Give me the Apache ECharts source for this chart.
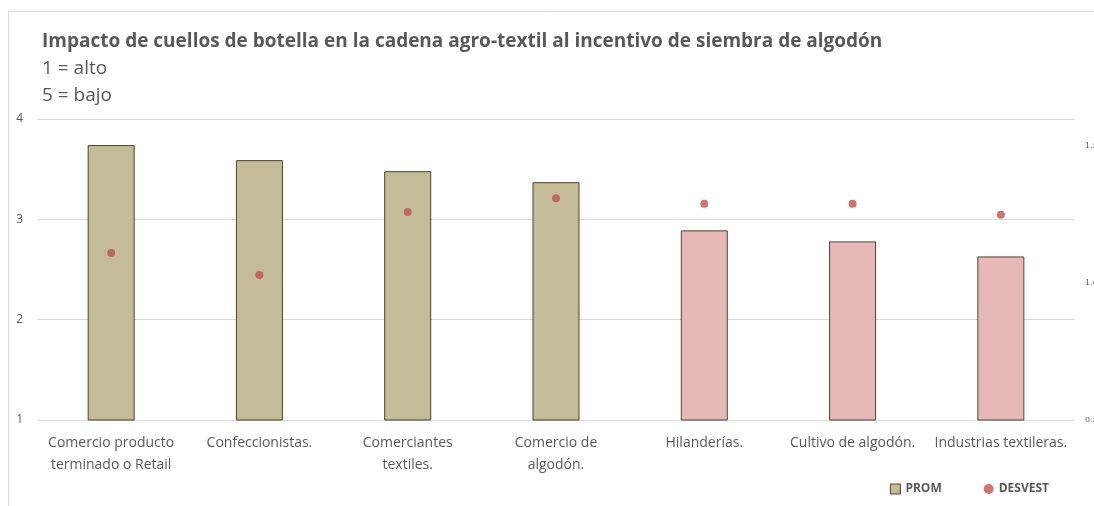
<!DOCTYPE html>
<html>
<head>
<meta charset="utf-8">
<script src="https://cdn.jsdelivr.net/npm/echarts@6/dist/echarts.min.js"></script>
<style>
  html, body { margin: 0; padding: 0; background: #fff; }
  #chart { width: 1094px; height: 506px; }
</style>
</head>
<body>
<div id="chart"></div>
<script>
// categorías y valores
const categorias = [
    'Comercio producto\nterminado o Retail',
    'Confeccionistas.',
    'Comerciantes\ntextiles.',
    'Comercio de\nalgodón.',
    'Hilanderías.',
    'Cultivo de algodón.',
    'Industrias textileras.'
];
const prom = [3.74, 3.59, 3.48, 3.37, 2.89, 2.78, 2.63];
const desvest = [1.11, 1.03, 1.26, 1.31, 1.29, 1.29, 1.25];
const grupoRosa = [false, false, false, false, true, true, true];

const colorTan = '#c4bc96';
const colorRosa = '#e6b9b8';

const chart = echarts.init(document.getElementById('chart'));

chart.setOption({
    backgroundColor: '#fff',
    animation: false,
    textStyle: { fontFamily: '"Open Sans", "Noto Sans", sans-serif' },
    title: {
        text: 'Impacto de cuellos de botella en la cadena agro-textil al incentivo de siembra de algodón',
        subtext: '1 = alto\n5 = bajo',
        left: 37,
        top: 27,
        itemGap: 4,
        textStyle: { fontSize: 19, fontWeight: 'bold', color: '#595959', fontFamily: '"Open Sans", sans-serif' },
        subtextStyle: { fontSize: 19, color: '#595959', lineHeight: 27, fontFamily: '"Open Sans", sans-serif' }
    },
    graphic: [{
        type: 'rect',
        shape: { x: 8.5, y: 11.5, width: 1100, height: 520 },
        style: { fill: 'none', stroke: '#d9d9d9', lineWidth: 1 },
        silent: true
    }],
    legend: {
        right: 40,
        bottom: 6,
        itemWidth: 10,
        itemHeight: 10,
        itemGap: 42,
        textStyle: { fontSize: 12, fontWeight: 'bold', color: '#595959' },
        data: [
            { name: 'PROM', icon: 'rect', itemStyle: { color: colorTan, borderColor: '#4a452a', borderWidth: 1 } },
            { name: 'DESVEST', icon: 'circle', itemStyle: { color: '#c0504d' } }
        ]
    },
    grid: { left: 37, right: 19, top: 119, bottom: 86, outerBoundsMode: 'none', containLabel: false },
    xAxis: {
        type: 'category',
        data: categorias,
        axisLine: { show: false },
        axisTick: { show: false },
        axisLabel: { interval: 0, margin: 12, fontSize: 14, lineHeight: 22, color: '#595959' }
    },
    yAxis: [
        {
            type: 'value',
            min: 1,
            max: 4,
            interval: 1,
            axisLabel: { fontSize: 12, color: '#595959', margin: 14 },
            splitLine: { lineStyle: { color: '#d9d9d9' } }
        },
        {
            type: 'value',
            min: 0.5,
            max: 1.6,
            interval: 0.5,
            position: 'right',
            axisLabel: {
                fontSize: 8,
                color: '#595959',
                margin: 10,
                showMaxLabel: false,
                fontFamily: '"DejaVu Serif", serif',
                formatter: v => v.toFixed(1)
            },
            splitLine: { show: false }
        }
    ],
    series: [
        {
            name: 'PROM',
            type: 'bar',
            barWidth: 47,
            itemStyle: { color: colorTan, borderColor: '#4a452a', borderWidth: 1 },
            data: prom.map((v, i) => ({
                value: v,
                itemStyle: { color: grupoRosa[i] ? colorRosa : colorTan }
            }))
        },
        {
            name: 'DESVEST',
            type: 'scatter',
            yAxisIndex: 1,
            symbol: 'circle',
            symbolSize: 8,
            itemStyle: { color: '#c0504d' },
            data: desvest
        }
    ]
});
</script>
</body>
</html>
